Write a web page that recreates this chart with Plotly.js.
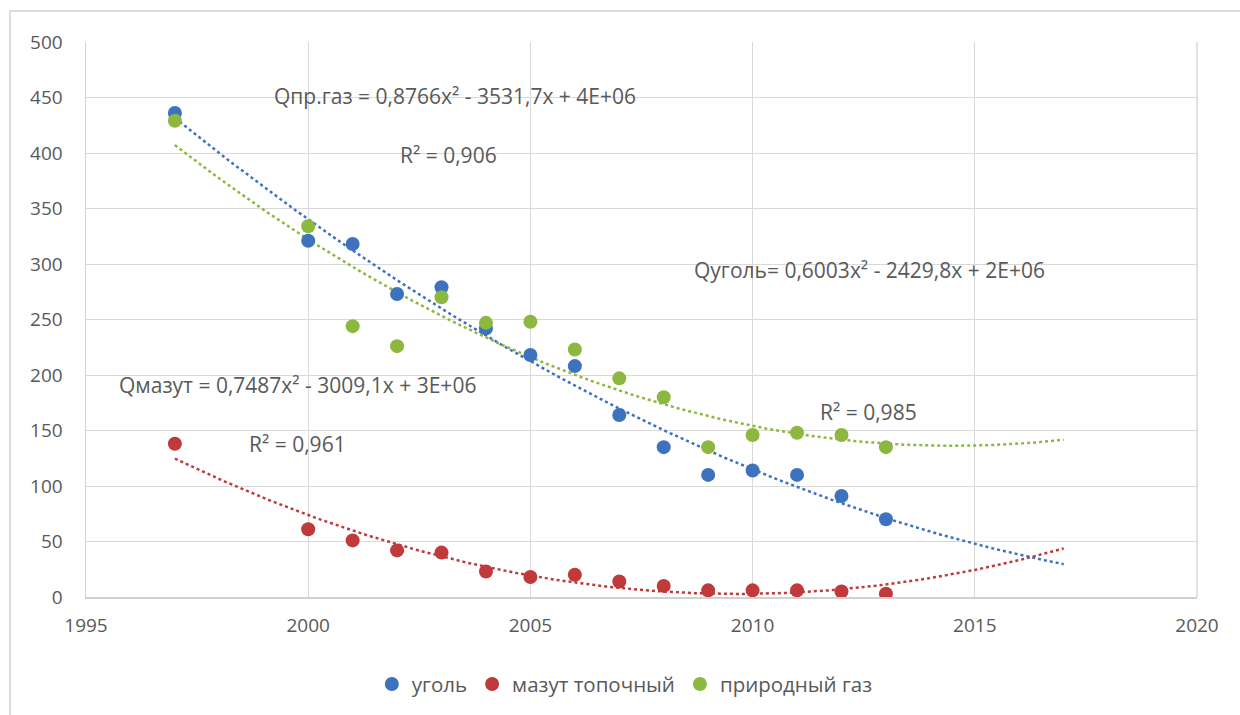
<!DOCTYPE html>
<html>
<head>
<meta charset="utf-8">
<script src="https://cdn.plot.ly/plotly-3.0.1.min.js"></script>
<style>
  html, body { margin: 0; padding: 0; width: 1240px; height: 715px; overflow: hidden; background: #ffffff; }
  #frame { position: absolute; left: 9px; top: 10px; width: 1300px; height: 800px; border: 2px solid #dcdcdc; box-sizing: border-box; }
  #chart { position: absolute; left: 0; top: 0; width: 1240px; height: 715px; }
</style>
</head>
<body>
<div id="frame"></div>
<div id="chart"></div>
<script>
// Годы наблюдений
const years = [1997, 2000, 2001, 2002, 2003, 2004, 2005, 2006, 2007, 2008, 2009, 2010, 2011, 2012, 2013];

// Значения по видам топлива
const coal    = [436, 321, 318, 273, 279, 242, 218, 208, 164, 135, 110, 114, 110, 91, 70];
const fuelOil = [138, 61, 51, 42, 40, 23, 18, 20, 14, 10, 6, 6, 6, 5, 3];
const natGas  = [429, 334, 244, 226, 270, 247, 248, 223, 197, 180, 135, 146, 148, 146, 135];

const seriesNames = ['уголь', 'мазут топочный', 'природный газ'];
const seriesColors = ['#3d72bf', '#c0393b', '#8db83f'];

// Подписи уравнений трендов
const labelTexts = [
  'Qпр.газ = 0,8766x² - 3531,7x + 4E+06',
  'R² = 0,906',
  'Qмазут = 0,7487x² - 3009,1x + 3E+06',
  'R² = 0,961',
  'Qуголь= 0,6003x² - 2429,8x + 2E+06',
  'R² = 0,985'
];
const labelX = [2003.3, 2003.15, 1999.75, 1999.75, 2012.64, 2012.6];
const labelY = [451, 398, 190.6, 137.6, 295, 167];

const xTicks = [1995, 2000, 2005, 2010, 2015, 2020];
const yTicks = [0, 50, 100, 150, 200, 250, 300, 350, 400, 450, 500];

// Полиномиальный тренд 2-й степени (метод наименьших квадратов)
function quadFit(xs, ys) {
  const x0 = 2005;
  let S = [0, 0, 0, 0, 0], T = [0, 0, 0];
  xs.forEach((xv, i) => {
    const t = xv - x0;
    let p = 1;
    for (let k = 0; k < 5; k++) { S[k] += p; p *= t; }
    T[0] += ys[i]; T[1] += ys[i] * t; T[2] += ys[i] * t * t;
  });
  const A = [[S[0], S[1], S[2], T[0]], [S[1], S[2], S[3], T[1]], [S[2], S[3], S[4], T[2]]];
  for (let c = 0; c < 3; c++) {
    for (let r = c + 1; r < 3; r++) {
      const f = A[r][c] / A[c][c];
      for (let k = c; k < 4; k++) A[r][k] -= f * A[c][k];
    }
  }
  const b = [0, 0, 0];
  for (let r = 2; r >= 0; r--) {
    let s = A[r][3];
    for (let k = r + 1; k < 3; k++) s -= A[r][k] * b[k];
    b[r] = s / A[r][r];
  }
  return x => { const t = x - x0; return b[0] + b[1] * t + b[2] * t * t; };
}

const trendStart = years[0], trendEnd = 2017;
function trendTrace(ys, color) {
  const f = quadFit(years, ys);
  const tx = [], ty = [];
  for (let x = trendStart; x <= trendEnd + 1e-9; x += 0.1) { tx.push(x); ty.push(f(x)); }
  return {
    x: tx, y: ty, mode: 'lines', type: 'scatter', showlegend: false, hoverinfo: 'skip',
    line: { color: color, width: 2.5, dash: 'dot' }
  };
}

const allSeries = [coal, fuelOil, natGas];
const traces = [];
allSeries.forEach((ys, i) => traces.push(trendTrace(ys, seriesColors[i])));
allSeries.forEach((ys, i) => traces.push({
  x: years, y: ys, mode: 'markers', type: 'scatter', name: seriesNames[i],
  marker: { color: seriesColors[i], size: 14 }
}));

const font = { family: '"Open Sans", "Noto Sans", sans-serif', color: '#595959' };

const layout = {
  width: 1240, height: 715,
  margin: { l: 86, r: 43, t: 42, b: 117 },
  paper_bgcolor: 'rgba(0,0,0,0)', plot_bgcolor: '#ffffff',
  font: Object.assign({ size: 18 }, font),
  showlegend: true,
  legend: {
    orientation: 'h', x: 0.485, xanchor: 'center', y: -0.155, yanchor: 'middle',
    font: Object.assign({ size: 20.5 }, font), itemwidth: 30, tracegroupgap: 0
  },
  xaxis: {
    range: [1995, 2020], tickmode: 'array', tickvals: xTicks, ticktext: xTicks.map(String),
    showgrid: true, gridcolor: '#d9d9d9', gridwidth: 1,
    zeroline: false, showline: true, linecolor: '#d0d0d0', linewidth: 1.5, mirror: false,
    ticks: '', ticklabelstandoff: 11, tickfont: Object.assign({ size: 19 }, font)
  },
  yaxis: {
    range: [0, 500], tickmode: 'array', tickvals: yTicks, ticktext: yTicks.map(String),
    showgrid: true, gridcolor: '#d9d9d9', gridwidth: 1,
    zeroline: false, showline: true, linecolor: '#d0d0d0', linewidth: 1.5,
    ticks: '', ticklabelstandoff: 18, tickfont: Object.assign({ size: 19 }, font)
  },
  shapes: [{
    type: 'line', xref: 'paper', yref: 'paper', x0: 1, x1: 1, y0: 0, y1: 1,
    line: { color: '#d9d9d9', width: 1.5 }
  }],
  annotations: labelTexts.map((t, i) => ({
    text: t, x: labelX[i], y: labelY[i], xref: 'x', yref: 'y',
    xanchor: 'center', yanchor: 'middle', showarrow: false,
    bgcolor: 'rgba(255,255,255,0)',
    font: Object.assign({ size: 21 }, font)
  }))
};

Plotly.newPlot('chart', traces, layout, { staticPlot: true, displayModeBar: false });
</script>
</body>
</html>
